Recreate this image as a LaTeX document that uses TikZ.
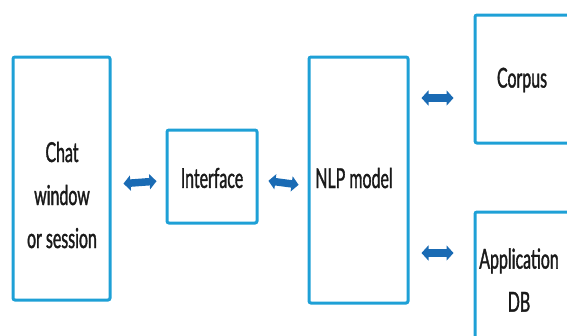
\documentclass[tikz,border=0pt]{standalone}
\usepackage{fontspec}
\setmainfont{Lato}[FakeStretch=0.58,FakeBold=1.2]
\usetikzlibrary{arrows.meta}
\definecolor{boxblue}{HTML}{1EA0D6}
\definecolor{arrblue}{HTML}{1A6BB4}
\definecolor{txt}{HTML}{1A1A1A}
\tikzset{
  box/.style={draw=boxblue, line width=3pt, rounded corners=2pt, fill=white, inner sep=0pt},
  lbl/.style={text=txt, align=center, font=\fontsize{27.5}{43}\selectfont, inner sep=0pt},
  dbl/.style={draw=arrblue, line width=7.5pt,
    {Triangle[length=7pt,width=15pt]}-{Triangle[length=7pt,width=15pt]}}
}
\begin{document}
\begin{tikzpicture}[x=1pt,y=-1pt]
\useasboundingbox (0,0) rectangle (567,335);
\begin{scope}
\clip (0,0) rectangle (567,335);
\node[box, minimum width=97pt, minimum height=243pt] (chat) at (61.5,178.5) {};
\node[box, minimum width=90pt, minimum height=93pt] (iface) at (212,176.5) {};
\node[box, minimum width=99pt, minimum height=246pt] (nlp) at (358.5,180) {};
\node[box, minimum width=95pt, minimum height=128pt] (corpus) at (522.5,79) {};
\node[box, minimum width=95pt, minimum height=138pt] (app) at (522.5,281) {};
\end{scope}
\node[lbl] (chatt) at (62,195) {Chat\\window\\or session};
\node[lbl] (ifacet) at (212,178) {Interface};
\node[lbl] (nlpt) at (354,178) {NLP model};
\node[lbl] (corpust) at (522,80) {Corpus};
\node[lbl] (appt) at (519,280) {Application\\DB};
\draw[dbl, shorten <=12pt, shorten >=9pt] ([yshift=-6pt]chat.east) -- ([yshift=-4pt]iface.west);
\draw[dbl, shorten <=10pt, shorten >=9pt] ([yshift=-3pt]iface.east) -- ([yshift=-6pt]nlp.west);
\draw[dbl, shorten <=12pt, shorten >=20pt] (nlp.east |- 0,98) -- (corpus.west |- 0,98);
\draw[dbl, shorten <=12pt, shorten >=20pt] (nlp.east |- 0,253) -- (app.west |- 0,253);
\end{tikzpicture}
\end{document}
